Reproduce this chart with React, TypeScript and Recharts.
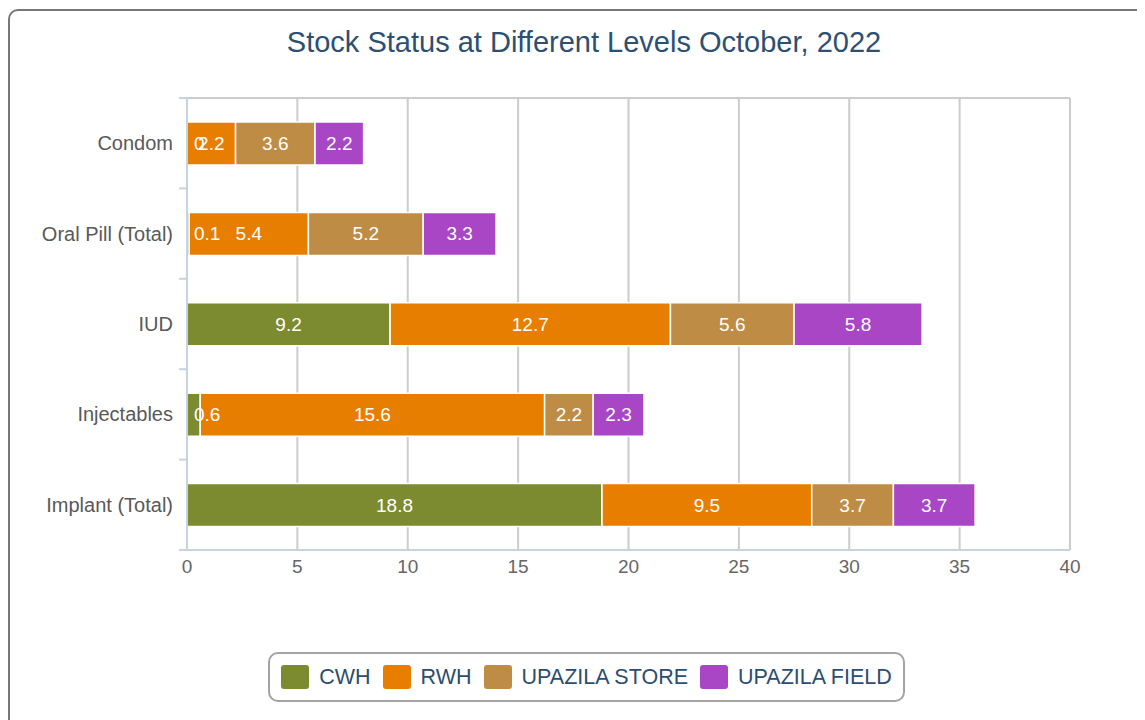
import React from 'react';
import {
  BarChart,
  Bar,
  XAxis,
  YAxis,
  CartesianGrid,
  LabelList,
} from 'recharts';

const categories = ['Condom', 'Oral Pill (Total)', 'IUD', 'Injectables', 'Implant (Total)'];
const cwh = [0, 0.1, 9.2, 0.6, 18.8];
const rwh = [2.2, 5.4, 12.7, 15.6, 9.5];
const upazilaStore = [3.6, 5.2, 5.6, 2.2, 3.7];
const upazilaField = [2.2, 3.3, 5.8, 2.3, 3.7];
const xTicks = [0, 5, 10, 15, 20, 25, 30, 35, 40];

const series = [
  { key: 'CWH', name: 'CWH', color: '#7c8a30' },
  { key: 'RWH', name: 'RWH', color: '#e87e00' },
  { key: 'STORE', name: 'UPAZILA STORE', color: '#bf8c46' },
  { key: 'FIELD', name: 'UPAZILA FIELD', color: '#a846c6' },
];

const data = categories.map((name, i) => ({
  name,
  CWH: cwh[i],
  RWH: rwh[i],
  STORE: upazilaStore[i],
  FIELD: upazilaField[i],
}));

const FONT = '"Liberation Sans", Arial, Helvetica, sans-serif';
const CHART_W = 1129;
const CHART_H = 704;
const MARGIN = { top: 90, right: 67, bottom: 132, left: 0 };
const X_AXIS_H = 30;
const PLOT_H = CHART_H - MARGIN.top - MARGIN.bottom - X_AXIS_H;
const AXIS_COLOR = '#c6d3e1';
const GRID_COLOR = '#cccccc';
const LABEL_SIZE = 19;

// rough Arial width for numeric labels
const textWidth = (s: string, size: number) =>
  s.split('').reduce((w, ch) => w + (ch === '.' ? 0.278 : 0.556), 0) * size;

const labelText = (x: number, y: number, s: string, anchor: 'middle' | 'start') => (
  <text
    x={x}
    y={y}
    fill="#ffffff"
    fontSize={LABEL_SIZE}
    fontFamily={FONT}
    textAnchor={anchor}
    dominantBaseline="central"
  >
    {s}
  </text>
);

const makeLabel = (key: string) => (props: any) => {
  const x = Number(props.x);
  const y = Number(props.y);
  const width = Number(props.width) || 0;
  const height = Number(props.height);
  const s = String(props.value);
  const fits = textWidth(s, LABEL_SIZE) + 6 < width;
  const cy = y + height / 2;
  // zero-sized CWH bars are skipped by recharts, so their "0" is drawn with RWH
  const zeroCwh = key === 'RWH' && cwh[props.index] === 0;
  return (
    <g>
      {zeroCwh && labelText(x + 7, cy, String(cwh[props.index]), 'start')}
      {labelText(fits ? x + width / 2 : x + 7, cy, s, fits ? 'middle' : 'start')}
    </g>
  );
};

const CategoryTick = (props: any) => {
  const { x, y, payload, index } = props;
  const half = PLOT_H / categories.length / 2;
  return (
    <g>
      <line x1={x - 8} x2={x} y1={y - half} y2={y - half} stroke={AXIS_COLOR} strokeWidth={2} />
      {index === categories.length - 1 && (
        <line x1={x - 8} x2={x} y1={y + half} y2={y + half} stroke={AXIS_COLOR} strokeWidth={2} />
      )}
      <text
        x={x - 14}
        y={y}
        textAnchor="end"
        dominantBaseline="central"
        fill="#595959"
        fontSize={20}
        fontFamily={FONT}
      >
        {payload.value}
      </text>
    </g>
  );
};

export default function App() {
  return (
    <div style={{ position: 'relative', width: 1137, height: 712, overflow: 'hidden', fontFamily: FONT }}>
      {/* outer card */}
      <div
        style={{
          position: 'absolute',
          left: 0,
          top: 1,
          width: 1160,
          height: 740,
          border: '2px solid #777777',
          borderRadius: 10,
          boxSizing: 'border-box',
        }}
      />
      <div
        style={{
          position: 'absolute',
          left: 0,
          top: 20,
          width: 1152,
          textAlign: 'center',
          fontSize: 29,
          lineHeight: '29px',
          color: '#2c5072',
        }}
      >
        Stock Status at Different Levels October, 2022
      </div>

      <div style={{ position: 'absolute', left: 0, top: 0 }}>
        <BarChart
          width={CHART_W}
          height={CHART_H}
          data={data}
          layout="vertical"
          margin={MARGIN}
          barSize={43}
        >
          <CartesianGrid
            stroke={GRID_COLOR}
            strokeWidth={2}
            horizontalPoints={[MARGIN.top]}
          />
          <XAxis
            type="number"
            domain={[0, 40]}
            ticks={xTicks}
            height={X_AXIS_H}
            tickLine={false}
            tickSize={0}
            tickMargin={10}
            axisLine={{ stroke: AXIS_COLOR, strokeWidth: 2 }}
            tick={{ fill: '#666666', fontSize: 19, fontFamily: FONT }}
            interval={0}
          />
          <YAxis
            type="category"
            dataKey="name"
            width={179}
            tickLine={false}
            tickSize={0}
            tickMargin={0}
            axisLine={{ stroke: AXIS_COLOR, strokeWidth: 2 }}
            tick={<CategoryTick />}
            interval={0}
          />
          {series.map((s) => (
            <Bar
              key={s.key}
              dataKey={s.key}
              name={s.name}
              stackId="stock"
              fill={s.color}
              stroke="#ffffff"
              strokeWidth={1.5}
              isAnimationActive={false}
            >
              <LabelList dataKey={s.key} content={makeLabel(s.key)} />
            </Bar>
          ))}
        </BarChart>
      </div>

      {/* legend */}
      <div
        style={{
          position: 'absolute',
          left: 260,
          top: 644,
          width: 637,
          height: 50,
          border: '2px solid #a3a3a3',
          borderRadius: 10,
          boxSizing: 'border-box',
          display: 'flex',
          alignItems: 'center',
          justifyContent: 'center',
          gap: 12,
        }}
      >
        {series.map((s) => (
          <div key={s.key} style={{ display: 'flex', alignItems: 'center', gap: 10 }}>
            <div style={{ width: 28, height: 24, background: s.color, borderRadius: 3 }} />
            <span style={{ fontSize: 21.5, color: '#2c4e6e' }}>{s.name}</span>
          </div>
        ))}
      </div>
    </div>
  );
}
